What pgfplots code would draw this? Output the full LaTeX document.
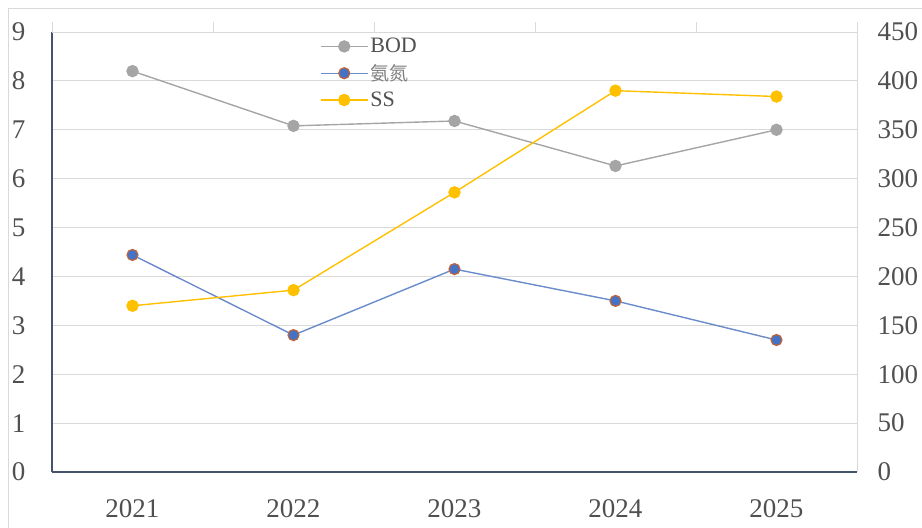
\documentclass[border=0pt]{standalone}
\usepackage{pgfplots}
\pgfplotsset{compat=1.18}
\usepackage{fontspec}
\setmainfont{Liberation Serif}
\newfontfamily\cjk{Noto Sans CJK SC}

\definecolor{bodgray}{HTML}{A5A5A5}
\definecolor{nhblue}{HTML}{4472C4}
\definecolor{nhline}{HTML}{6A8CCB}
\definecolor{nhedge}{HTML}{C0643C}
\definecolor{ssgold}{HTML}{FFC000}
\definecolor{axisnavy}{HTML}{44546A}
\definecolor{gridgray}{HTML}{D9D9D9}
\definecolor{labelgray}{HTML}{505050}

\pgfplotsset{
  common/.style={
    width=805pt, height=440pt, scale only axis,
    xmin=-0.5, xmax=4.5,
    ymin=0,
    ticklabel style={font=\fontsize{27}{27}\selectfont, text=labelgray},
    /pgf/number format/assume math mode=true,
  },
}

\begin{document}
\begin{tikzpicture}[x=1pt,y=1pt]
\path[use as bounding box] (0,0) rectangle (922,528);
\draw[gridgray, line width=1pt] (8,0) -- (8,519) -- (922,519);

% left axis: BOD and ammonia nitrogen
\begin{axis}[common,
  at={(52pt,56pt)}, anchor=south west,
  ymax=9, ytick={0,...,9},
  xtick={0,...,4}, xticklabels={2021,2022,2023,2024,2025},
  axis x line*=bottom, axis y line*=left,
  x axis line style={draw=axisnavy, line width=1.6pt, -},
  y axis line style={draw=axisnavy, line width=1.6pt, -},
  major tick length=0pt,
  ymajorgrids, grid style={gridgray, line width=1pt},
  xticklabel style={yshift=-24pt},
  yticklabel style={xshift=-23pt},
  legend style={at={(0.329,0.995)}, anchor=north west, draw=none, fill=none,
    font=\fontsize{22}{22}\selectfont, text=labelgray, row sep=6pt,
    legend cell align=left},
  legend image code/.code={
    \draw[#1, mark=none] (0pt,0pt) -- (47pt,0pt);
    \draw[#1, only marks] plot coordinates {(23.5pt,0pt)};
  },
]
\addplot[bodgray, line width=1.4pt, mark=*, mark size=5.5pt,
  mark options={fill=bodgray, draw=bodgray}]
  coordinates {(0,8.20) (1,7.08) (2,7.18) (3,6.26) (4,7.00)};
\addlegendentry{BOD}
\addplot[nhline, line width=1.4pt, mark=*, mark size=5.5pt,
  mark options={fill=nhblue, draw=nhedge, line width=1.2pt}]
  coordinates {(0,4.44) (1,2.80) (2,4.15) (3,3.50) (4,2.70)};
\addlegendentry{\cjk\fontsize{19}{19}\selectfont\textcolor{gray}{氨氮}}
\addlegendimage{ssgold, line width=1.4pt, mark=*, mark size=5.5pt,
  mark options={fill=ssgold, draw=ssgold}}
\addlegendentry{SS}
\end{axis}

% right axis: SS
\begin{axis}[common,
  at={(52pt,56pt)}, anchor=south west,
  ymax=450, ytick={0,50,...,450},
  xtick={-0.5,0.5,...,4.5}, xticklabels={},
  axis x line*=top, axis y line*=right,
  x axis line style={draw=gridgray, line width=1pt, -},
  y axis line style={draw=gridgray, line width=1pt, -},
  major tick length=10pt, tick align=outside,
  xtick style={draw=gridgray, line width=1pt},
  ytick style={draw=none},
  yticklabel style={xshift=7pt},
]
\addplot[ssgold, line width=1.4pt, mark=*, mark size=5.5pt,
  mark options={fill=ssgold, draw=ssgold}]
  coordinates {(0,170) (1,186) (2,286) (3,390) (4,384)};
\end{axis}
\end{tikzpicture}
\end{document}
